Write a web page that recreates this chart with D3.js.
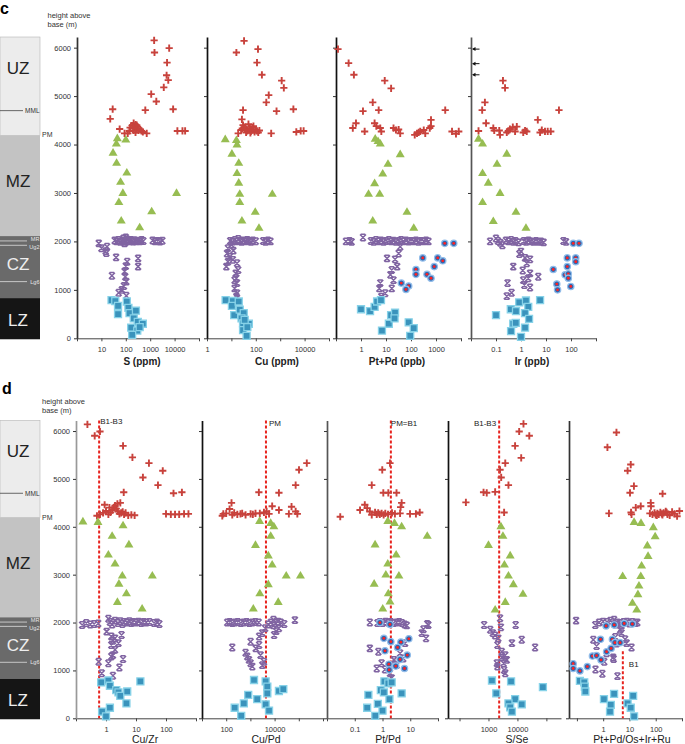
<!DOCTYPE html>
<html><head><meta charset="utf-8">
<script src="https://cdn.jsdelivr.net/npm/d3@7"></script>
<style>body{margin:0;background:#fff}svg{display:block}text{font-family:"Liberation Sans",Arial,sans-serif}</style>
</head><body>
<script>
// ---------------- DATA (value, height above base in m) ----------------
// Panel c : S (ppm)
const S_UZ = [[1450,6150],[1500,5900],[6000,5990],[4900,5690],[4700,5430],[5500,5330],[3600,5180],[1100,5040],[1780,4890],[8700,4730],[630,4710],[29,4730],[23,4530],[56,4320],[89,4230],[140,4280],[210,4440],[180,4390],[250,4410],[300,4370],[330,4330],[150,4350],[210,4290],[270,4300],[330,4290],[400,4300],[440,4280],[500,4260],[720,4230],[250,4250],[120,4230],[280,4400],[200,4340],[13000,4280],[21000,4280],[27000,4280]];
const S_MZ = [[45,4140],[41,4030],[100,4110],[30,3840],[42,3630],[110,3430],[61,3240],[76,3010],[52,2820],[12000,3010],[1150,2630],[65,2440],[370,2300]];
const S_CZ = [[7.8,1960],[10,1860],[17,1890],[16,1760],[15,1800],[40,1670],[114,1580],[100,1490],[320,1650],[320,1480],[89,1380],[95,1270],[27,1290],[105,1170],[84,1080],[69,1000],[51,940],[105,880],[35,2020],[42,2000],[50,2030],[60,1990],[70,2010],[80,2060],[89,2020],[100,1990],[112,2040],[126,2010],[141,2000],[158,2030],[178,2010],[200,1995],[224,2025],[263,2005],[316,2015],[380,2000],[447,2030],[525,2010],[1260,2020],[1580,2000],[2000,2010],[2500,1995],[3160,2015],[100,2080],[89,1960]];
const S_LZ = [[26,790],[37,770],[48,670],[110,760],[128,630],[142,520],[260,570],[48,500],[212,410],[310,340],[500,300],[166,220],[295,160],[182,70],[370,230]];
// Panel c : Cu (ppm)
const Cu_UZ = [[33,6140],[16,5900],[123,5970],[112,5690],[178,5440],[1150,5320],[1410,5170],[339,5020],[269,4870],[708,4690],[3470,4730],[30,4710],[27,4520],[19,4230],[25,4300],[30,4400],[35,4360],[40,4310],[45,4280],[50,4420],[56,4330],[63,4270],[70,4300],[80,4380],[89,4260],[100,4300],[112,4280],[126,4250],[140,4290],[40,4250],[60,4240],[28,4330],[75,4350],[427,4230],[4570,4260],[6920,4280],[9120,4280]];
const Cu_MZ = [[5.6,4120],[16,4100],[17,4010],[10.5,3820],[20,3630],[17,3420],[20,3220],[22,2990],[22,2820],[475,2990],[95,2620],[27,2440],[135,2290]];
const Cu_CZ = [[8.9,2010],[11,1995],[14,2030],[16,2000],[19,2050],[22,2010],[26,1990],[32,2020],[38,2000],[45,2030],[52,2010],[63,1990],[76,2020],[100,2005],[200,2010],[250,1990],[316,2020],[400,2000],[10,1930],[7.2,1860],[6.6,1750],[8.5,1680],[6.2,1480],[17,1550],[15,1340],[19,1410],[16,1240],[17,1140],[13.5,1030],[17,930],[16,860],[12,1810],[11.5,1620],[7.2,1580],[13.5,1200]];
const Cu_LZ = [[5.8,790],[11.5,770],[10.5,670],[20,760],[13,480],[22,590],[32,520],[26,410],[30,310],[52,300],[30,170],[42,50],[35,380],[45,230]];
// Panel c : Pt+Pd (ppb)
const PtPd_UZ = [[0.12,5970],[0.32,5680],[0.52,5440],[8.9,5320],[16,5160],[2.95,4870],[5.1,4710],[1.2,4690],[0.47,4340],[0.63,4440],[1.4,4270],[3.5,4440],[4.1,4380],[5.9,4340],[6.5,4270],[20,4340],[25,4300],[37,4230],[32,4310],[174,4230],[234,4270],[324,4300],[562,4340],[631,4510],[631,4380],[2340,4710],[4370,4270],[6300,4220],[8130,4270],[141,4200],[204,4250],[372,4230]];
const PtPd_MZ = [[3.7,4130],[4.8,4080],[5.9,4030],[37,3810],[12,3610],[7.4,3410],[3.5,3210],[2.0,2990],[5.6,2990],[69,2620],[2.95,2440],[129,2290]];
const PtPd_CZ = [[0.25,2000],[0.35,2010],[0.42,1990],[1.2,2080],[2.5,2010],[3.2,1990],[4,2030],[5,2000],[6.3,2020],[8,1990],[10,2010],[13,2030],[16,2000],[20,2015],[25,1990],[32,2010],[40,2030],[50,2000],[63,2020],[80,1995],[100,2010],[126,2000],[158,2020],[200,1990],[250,2010],[320,2000],[400,2020],[500,2000],[37,1890],[32,1750],[23,1630],[11,1650],[17,1410],[15,1310],[5.9,1140],[5.4,1030],[17,1030],[9.3,930],[6.5,860],[20,1200],[28,1480]];
const PtPd_REEF = [[2240,1960],[5130,1960],[295,1660],[1170,1660],[1860,1600],[850,1480],[158,1420],[158,1320],[437,1320],[631,1240],[41,1140],[81,1080],[63,1010]];
const PtPd_LZ = [[1.0,600],[2.3,560],[3.5,650],[4.4,760],[6.3,790],[16,480],[23,530],[13,300],[22,410],[81,330],[129,210],[93,50],[6.9,160]];
// Panel c : Ir (ppb)
const Ir_UZ = [[0.19,5320],[0.23,5170],[0.036,4870],[0.028,4710],[33,4710],[4.7,4510],[0.04,4440],[0.02,4280],[0.078,4340],[0.085,4290],[0.135,4290],[0.145,4200],[0.31,4280],[0.36,4320],[0.47,4360],[0.68,4370],[1.23,4250],[1.7,4270],[5.8,4250],[6.8,4300],[9.1,4270],[11.7,4270],[15.5,4270],[0.27,4250],[0.58,4270],[1.45,4290]];
const Ir_BDL = [5970,5670,5440]; // heights of samples below detection (arrows)
const Ir_MZ = [[0.02,4130],[0.029,4030],[0.27,3820],[0.11,3610],[0.029,3420],[0.049,3220],[0.145,3010],[0.029,2820],[0.63,2620],[0.078,2430],[1.58,2290]];
const Ir_CZ = [[0.058,2000],[0.1,2060],[0.12,2010],[0.15,1970],[0.18,1920],[0.25,2020],[0.32,2000],[0.4,2030],[0.5,1990],[0.6,2010],[0.8,1980],[1.3,2010],[1.6,1990],[2,2020],[2.5,2000],[3.2,1990],[4,2010],[5,1990],[6.3,2000],[8,1980],[50,2010],[63,1990],[1.0,1790],[0.86,1740],[1.45,1660],[2.3,1630],[1.7,1550],[0.49,1480],[1.17,1400],[2.3,1340],[1.95,1240],[4.9,1270],[1.23,1200],[1.36,1100],[2.3,1050],[0.29,1140],[0.42,940],[0.27,870]];
const Ir_REEF = [[123,1960],[209,1960],[71,1660],[155,1660],[155,1580],[71,1480],[19.5,1420],[58,1310],[78,1330],[78,1240],[27,1120],[29,1000],[98,1070]];
const Ir_LZ = [[0.1,480],[0.39,600],[0.63,560],[0.85,740],[1.58,780],[1.95,650],[1.45,520],[2.1,400],[5.8,790],[0.49,300],[0.62,320],[0.4,150],[1.45,220],[1.0,30]];
// Panel d : Cu/Zr
const CuZr_UZ = [[0.24,6140],[0.42,5900],[0.63,5990],[3.7,5690],[7.6,5450],[27,5330],[78,5170],[17,5030],[54,4870],[3.9,4720],[178,4700],[339,4720],[0.5,4230],[0.63,4260],[0.8,4290],[1.0,4330],[1.2,4260],[1.4,4300],[1.6,4350],[1.8,4400],[2.0,4440],[2.2,4380],[2.5,4320],[2.8,4270],[3.2,4290],[3.6,4310],[4,4260],[4.5,4290],[5.5,4240],[7,4250],[9,4240],[1.3,4400],[0.9,4460],[2.4,4480],[3.0,4500],[100,4270],[145,4260],[200,4260],[275,4260],[400,4270],[560,4270]];
const CuZr_MZ = [[0.17,4120],[0.54,4110],[3.7,4040],[1.6,3820],[5.8,3640],[1.2,3430],[2.0,3240],[3.5,2990],[2.7,2820],[4.8,2620],[2.4,2440],[35,2990],[16,2300]];
const CuZr_CZ = [[0.16,1950],[0.22,1990],[0.3,1960],[0.4,1970],[0.55,1980],[1.35,2010],[1.6,1960],[2,2040],[2.5,1990],[3,2030],[3.5,1970],[4,2010],[5,2000],[6,2030],[7,1990],[8,2010],[10,2000],[12,2020],[15,1990],[18,2010],[22,2000],[28,2010],[40,1990],[50,2000],[60,1970],[1.2,2080],[1.05,1810],[1.5,1710],[2.0,1670],[1.7,1620],[3.3,1740],[2.6,1570],[1.5,1530],[2.0,1430],[1.7,1320],[1.5,1290],[3.7,1240],[0.57,1180],[1.2,1150],[2.8,1060],[0.72,940],[1.7,890]];
const CuZr_LZ = [[0.69,750],[1.2,790],[1.35,680],[14,770],[2.2,590],[2.6,540],[3.0,470],[5.1,560],[4.8,310],[1.35,220],[0.74,140],[1.0,40]];
// Panel d : Cu/Pd
const CuPd_UZ = [[69,4230],[76,4270],[138,4370],[166,4500],[178,4250],[288,4260],[389,4270],[631,4250],[1020,4270],[1620,4280],[2450,4280],[3630,4300],[4680,4320],[5890,4270],[7940,4430],[15100,4350],[38900,4270],[50100,4420],[74100,4320],[87100,4270],[2240,4720],[15100,4710],[74100,4870],[102000,5190],[214000,5330],[100,4280],[214,4290],[457,4280],[1260,4260]];
const CuPd_MZ = [[2400,4130],[6900,4090],[9300,4020],[6900,3820],[1620,3630],[5500,3410],[7940,3220],[30200,2990],[117000,2990],[5500,2810],[2450,2620],[14100,2440],[1320,2300]];
const CuPd_CZ = [[110,2000],[140,2010],[180,1990],[230,2000],[300,2010],[400,1990],[520,2000],[700,2010],[900,1990],[1200,2000],[1600,2010],[2200,2000],[5500,1960],[7000,2000],[9000,1940],[11000,1990],[14000,2020],[18000,2000],[25000,1970],[9000,2060],[69000,2050],[4070,1880],[3090,1780],[2290,1710],[1020,1600],[178,1480],[2290,1530],[631,1370],[741,1290],[2630,1320],[871,1220],[1200,1080],[3090,1110],[3630,1180],[9550,1740],[11700,1820],[15100,1880],[1660,1460],[1020,1150]];
const CuPd_LZ = [[1410,800],[4270,770],[5010,660],[5010,520],[15100,570],[22900,610],[813,490],[1910,400],[224,220],[537,310],[4270,290],[5890,160],[417,50]];
// Panel d : Pt/Pd
const PtPdR_UZ = [[1.86,5330],[0.98,5190],[0.41,4870],[1.07,4710],[1.62,4710],[3.2,4710],[0.23,4460],[0.28,4390],[0.155,4350],[0.35,4320],[0.54,4300],[0.62,4260],[0.93,4280],[4.3,4280],[4.9,4500],[4.5,4410],[9.8,4270],[16,4270],[22,4300],[0.03,4210],[0.41,4250],[1.26,4280],[1.58,4260],[2.2,4290],[2.8,4270],[0.8,4260],[0.7,4290],[1.1,4250]];
const PtPdR_MZ = [[1.55,4130],[2.7,4090],[4.9,4020],[41,3820],[0.54,3640],[3.1,3430],[1.55,3240],[1.32,3010],[3.9,2990],[0.5,2820],[1.62,2620],[1.86,2450],[1.02,2300]];
const PtPdR_CZ = [[0.35,2000],[0.66,1990],[0.8,2010],[1.0,1990],[1.3,2020],[1.6,2000],[2.0,2010],[2.5,1990],[3.2,2000],[4,2010],[5,1990],[6.3,1960],[7.5,1940],[41,1970],[30,1860],[26,1780],[37,1670],[45,1950],[0.35,1460],[0.71,1390],[0.62,1040],[0.93,1150],[1.23,1020],[1.86,940],[2.14,840],[4.3,1360],[5.6,1250],[2.6,1220],[3.2,1110],[6.5,1570]];
const PtPdR_REEF = [[0.81,2000],[1.86,1960],[1.12,1670],[2.0,1600],[4.6,1590],[8.9,1660],[3.5,1480],[1.23,1410],[7.8,1320],[4.3,1230],[1.7,1130],[3.0,1090],[6.2,1040],[1.74,1010]];
const PtPdR_LZ = [[1.17,770],[1.62,730],[2.14,750],[0.87,590],[1.12,540],[4.9,520],[0.31,490],[0.68,300],[0.28,220],[1.0,160],[0.55,50],[1.78,400]];
// Panel d : S/Se
const SSe_UZ = [[16200,6150],[11500,5990],[25700,5900],[8300,5690],[13500,5440],[3800,5330],[2510,5190],[2750,5030],[4900,4870],[676,4720],[871,4710],[1700,4730],[166,4510],[3470,4300]];
const SSe_MZ = [[2690,4020],[3160,3820],[1000,3630],[5620,3410],[3550,3220],[4900,2990],[7240,2810],[15500,2610],[3800,2440],[1700,2280]];
const SSe_CZ = [[2510,2090],[2690,1900],[708,1950],[1150,1850],[1410,1780],[1700,1730],[2190,1670],[8710,1950],[14100,1640],[6460,1570],[40700,1480],[2040,1530],[2880,1390],[3800,1320],[2880,1270],[4270,1220],[3310,1150],[1950,1150],[2040,1080],[3470,1010],[3800,940]];
const SSe_LZ = [[1320,790],[6030,770],[75900,650],[1860,520],[8320,400],[14100,290],[4900,310],[5620,230],[6460,140]];
// Panel d : Pt+Pd/Os+Ir+Ru
const PGE_UZ = [[3.2,5970],[1.45,5660],[11.2,5300],[8.5,5170],[14.8,4850],[10.5,4710],[182,4690],[17.4,4400],[26.9,4430],[64.6,4500],[66,4430],[1.66,4280],[11.5,4300],[12,4260],[60,4280],[75,4260],[90,4290],[100,4250],[115,4280],[130,4260],[150,4300],[170,4270],[200,4290],[240,4320],[280,4260],[340,4240],[420,4310],[520,4270],[650,4220],[800,4330],[110,4240],[180,4250],[260,4300]];
const PGE_MZ = [[15,4110],[27.5,4090],[81,4000],[95,3810],[48,3620],[51,3400],[29,3200],[5.5,2980],[27,2980],[23,2780],[21,2600],[13,2420],[19,2280]];
const PGE_CZ = [[0.093,2040],[0.5,1950],[0.7,2000],[1.0,2020],[1.4,2010],[1.9,2040],[2.6,2060],[3.5,2000],[4.5,1990],[6,2010],[8,2020],[10,1980],[13,2010],[17,1990],[20,2000],[5,1940],[3,1960],[4.4,1850],[5,1780],[6.8,1650],[7.8,1570],[12,1480],[0.42,1640],[0.56,1510],[1.35,1360],[2.4,1270],[1.1,1180],[0.51,1020],[0.93,930],[3.5,880],[2.5,1240],[3.2,1560],[2.9,1700]];
const PGE_REEF = [[1.29,1930],[2.63,1950],[6.3,1980],[12.9,1970],[0.79,1650],[2.24,1650],[2.8,1580],[4.4,1580],[1.35,1390],[2.0,1460],[0.39,1300],[0.56,1310],[0.83,1220],[0.25,1080],[0.072,1140],[0.072,1040],[0.13,990]];
const PGE_LZ = [[0.13,780],[0.19,750],[0.2,660],[0.21,560],[2.6,510],[1.07,400],[1.95,280],[1.82,140],[8.5,310],[13.8,470],[11.2,220],[15,40]];

// Stratigraphy
const zoneNames = ["UZ","MZ","CZ","LZ"];
const zoneTops = [6220,4190,2110,830];
const zoneBottoms = [4190,2110,830,-20];
const zoneLabelHeights = [5590,3250,1540,380];
const horizonNames = ["MML","MR","Ug2","Lg6"];
const horizonHeights = [4700,2010,1920,1170];
const heightTicks = [0,1000,2000,3000,4000,5000,6000];

// ---------------- DRAWING ----------------
const W = 685, H = 744;
const svg = d3.select("body").append("svg").attr("width", W).attr("height", H);
const FONT = '"Liberation Sans", Arial, sans-serif';

const yC = d3.scaleLinear().domain([0, 6220]).range([338.3, 37]);
const yD = d3.scaleLinear().domain([0, 6220]).range([718.3, 420.5]);

const zoneFill = ["#ececec", "#c3c3c3", "#6a6a6a", "#151515"];
const zoneText = ["#222", "#222", "#eeeeee", "#eeeeee"];
const horizonTextShift = [0, -1.6, 1.8, 0];

function drawColumn(y) {
  const g = svg.append("g");
  zoneNames.forEach((n, i) => {
    g.append("rect").attr("x", 0).attr("width", 40)
      .attr("y", y(zoneTops[i])).attr("height", y(zoneBottoms[i]) - y(zoneTops[i]))
      .attr("fill", zoneFill[i]).attr("stroke", i === 0 ? "#b5b5b5" : "none").attr("stroke-width", 0.6);
    g.append("text").attr("x", 18).attr("y", y(zoneLabelHeights[i])).attr("dy", "0.36em")
      .attr("text-anchor", "middle").attr("font-size", 17).attr("fill", zoneText[i]).text(n);
  });
  horizonNames.forEach((n, i) => {
    const yy = y(horizonHeights[i]);
    const light = i > 0;
    g.append("line").attr("x1", 0).attr("x2", light ? 27 : 23).attr("y1", yy).attr("y2", yy)
      .attr("stroke", light ? "#e0e0e0" : "#444").attr("stroke-width", 0.8);
    g.append("text").attr("x", 39.5).attr("y", yy + horizonTextShift[i]).attr("dy", "0.35em").attr("text-anchor", "end")
      .attr("font-size", light ? 5.6 : 6.5).attr("fill", light ? "#e6e6e6" : "#333").text(n);
  });
  g.append("text").attr("x", 42).attr("y", y(zoneBottoms[0])).attr("dy", "0.3em")
    .attr("font-size", 7).attr("fill", "#333").text("PM");
}
drawColumn(yC);
drawColumn(yD);

// panel letters & y titles
svg.append("text").attr("x", 0).attr("y", 14).attr("font-size", 16).attr("font-weight", "bold").text("c");
svg.append("text").attr("x", 2).attr("y", 394).attr("font-size", 16).attr("font-weight", "bold").text("d");
[[47.5, 17.5, "height above"], [47.5, 27, "base (m)"], [42, 403.5, "height above"], [42, 413, "base (m)"]].forEach(t =>
  svg.append("text").attr("x", t[0]).attr("y", t[1]).attr("font-size", 7.5).attr("fill", "#333").text(t[2]));

const style = {
  UZ: { d: "M-3.6,0H3.6M0,-3.6V3.6", fill: "none", stroke: "#c8423c", sw: 1.9 },
  MZ: { d: "M0,-4.2L4.5,3.4H-4.5Z", fill: "#97bd52", stroke: "none", sw: 0 },
  CZ: { d: "M-3,-3L3,3M3,-3L-3,3M-2.3,-3.2H2.3M-2.3,3.2H2.3", fill: "none", stroke: "#8064a2", sw: 1.5 },
  LZ: { d: "M-3.5,-3.5H3.5V3.5H-3.5Z", fill: "#3a93bc", stroke: "#87d2e8", sw: 1.3 }
};

const panels = [
  { y: yC, dom: [1, 1e5], rng: [77, 199], labels: [10, 100, 1000, 10000], title: "S (ppm)", tx: 142, ty: 365, bold: true, axis: "#333", yLab: true,
    UZ: S_UZ, MZ: S_MZ, CZ: S_CZ, LZ: S_LZ },
  { y: yC, dom: [1, 1e5], rng: [207, 329], labels: [1, 100, 10000], title: "Cu (ppm)", tx: 277, ty: 365, bold: true, axis: "#111",
    UZ: Cu_UZ, MZ: Cu_MZ, CZ: Cu_CZ, LZ: Cu_LZ },
  { y: yC, dom: [0.1, 1e4], rng: [336, 461], labels: [1, 10, 100, 1000], title: "Pt+Pd (ppb)", tx: 397, ty: 365, bold: true, axis: "#111",
    UZ: PtPd_UZ, MZ: PtPd_MZ, CZ: PtPd_CZ, LZ: PtPd_LZ, REEF: PtPd_REEF },
  { y: yC, dom: [0.01, 1000], rng: [471, 596], labels: [0.1, 1, 10, 100], title: "Ir (ppb)", tx: 532, ty: 365, bold: true, axis: "#555",
    UZ: Ir_UZ, MZ: Ir_MZ, CZ: Ir_CZ, LZ: Ir_LZ, REEF: Ir_REEF, BDL: Ir_BDL },
  { y: yD, dom: [0.1, 1000], rng: [76, 196], labels: [1, 10, 100], title: "Cu/Zr", tx: 145, ty: 743, axis: "#999", yLab: true,
    UZ: CuZr_UZ, MZ: CuZr_MZ, CZ: CuZr_CZ, LZ: CuZr_LZ, ref: { v: 0.59, top: 6220, label: "B1-B3", dx: 1, anchor: "start", ly: 424 } },
  { y: yD, dom: [10, 1e6], rng: [202, 323], labels: [100, 10000], title: "Cu/Pd", tx: 266, ty: 743, axis: "#111",
    UZ: CuPd_UZ, MZ: CuPd_MZ, CZ: CuPd_CZ, LZ: CuPd_LZ, ref: { v: 4400, top: 6220, label: "PM", dx: 3, anchor: "start", ly: 426 } },
  { y: yD, dom: [0.01, 100], rng: [327, 438], labels: [0.1, 1, 10], title: "Pt/Pd", tx: 388, ty: 743, axis: "#555",
    UZ: PtPdR_UZ, MZ: PtPdR_MZ, CZ: PtPdR_CZ, LZ: PtPdR_LZ, REEF: PtPdR_REEF, ref: { v: 2.0, top: 6220, label: "PM=B1", dx: 0, anchor: "start", ly: 426 } },
  { y: yD, dom: [40, 3.2e5], rng: [448, 561], labels: [1000, 10000], title: "S/Se", tx: 517, ty: 743, axis: "#111",
    UZ: SSe_UZ, MZ: SSe_MZ, CZ: SSe_CZ, LZ: SSe_LZ, ref: { v: 2340, top: 6220, label: "B1-B3", dx: -3, anchor: "end", ly: 426 } },
  { y: yD, dom: [0.05, 1000], rng: [569, 682], labels: [1, 10, 100], title: "Pt+Pd/Os+Ir+Ru", tx: 632, ty: 743, axis: "#333",
    UZ: PGE_UZ, MZ: PGE_MZ, CZ: PGE_CZ, LZ: PGE_LZ, REEF: PGE_REEF, ref: { v: 5.6, top: 1400, label: "B1", dx: 6, anchor: "start", ly: 667 } }
];

panels.forEach(p => {
  const x = d3.scaleLog().domain(p.dom).range(p.rng);
  const y = p.y;
  const g = svg.append("g");
  const lo = Math.ceil(Math.log10(p.dom[0]) - 1e-9), hi = Math.floor(Math.log10(p.dom[1]) + 1e-9);
  const decades = d3.range(lo, hi + 1).map(e => +Math.pow(10, e).toPrecision(1));
  const fmt = v => p.labels.some(l => Math.abs(l - v) / l < 1e-6) ? String(v) : "";

  // x axis
  const xa = g.append("g").attr("transform", `translate(0,${y(0)})`)
    .call(d3.axisBottom(x).tickValues(decades).tickFormat(fmt).tickSizeInner(3).tickSizeOuter(0).tickPadding(5));
  xa.select(".domain").attr("stroke", "#444").attr("stroke-width", 1);
  xa.selectAll(".tick line").attr("stroke", "#444");
  xa.selectAll("text").attr("font-family", FONT).attr("font-size", 7.5).attr("fill", "#333");

  // y axis
  const ya = g.append("g").attr("transform", `translate(${p.rng[0]},0)`)
    .call(d3.axisLeft(y).tickValues(heightTicks).tickFormat(p.yLab ? d3.format("d") : () => "").tickSizeInner(3).tickSizeOuter(0).tickPadding(3));
  ya.select(".domain").attr("stroke", p.axis).attr("stroke-width", 1.7);
  ya.selectAll(".tick line").attr("stroke", "#333");
  ya.selectAll("text").attr("font-family", FONT).attr("font-size", 7.5).attr("fill", "#333");

  // title
  g.append("text").attr("x", p.tx).attr("y", p.ty).attr("text-anchor", "middle")
    .attr("font-size", p.bold ? 10 : 10.5).attr("font-weight", p.bold ? "bold" : "normal").attr("fill", "#222").text(p.title);

  // reference line
  if (p.ref) {
    const rx = x(p.ref.v);
    g.append("line").attr("x1", rx).attr("x2", rx).attr("y1", y(p.ref.top)).attr("y2", y(0))
      .attr("stroke", "#e8231e").attr("stroke-width", 2).attr("stroke-dasharray", "3,2");
    g.append("text").attr("x", rx + p.ref.dx).attr("y", p.ref.ly).attr("text-anchor", p.ref.anchor)
      .attr("font-size", 8).attr("fill", "#222").text(p.ref.label);
  }

  // markers
  ["UZ", "MZ", "CZ", "LZ"].forEach(k => {
    const s = style[k];
    g.append("g").selectAll("path").data(p[k]).join("path")
      .attr("transform", d => `translate(${x(d[0])},${y(d[1])})`)
      .attr("d", s.d).attr("fill", s.fill).attr("stroke", s.stroke).attr("stroke-width", s.sw);
  });
  if (p.REEF) {
    const rg = g.append("g").selectAll("g").data(p.REEF).join("g")
      .attr("transform", d => `translate(${x(d[0])},${y(d[1])})`);
    rg.append("circle").attr("r", 3.2).attr("fill", "#2e68b3").attr("stroke", "#93bde9").attr("stroke-width", 1.2);
    rg.append("circle").attr("r", 1.4).attr("fill", "#ff2020");
  }
  if (p.BDL) {
    const bx = x(p.dom[0]);
    const ag = g.append("g").selectAll("g").data(p.BDL).join("g")
      .attr("transform", d => `translate(${bx},${y(d)})`);
    ag.append("line").attr("x1", 2).attr("x2", 8.5).attr("y1", 0).attr("y2", 0).attr("stroke", "#111").attr("stroke-width", 1);
    ag.append("path").attr("d", "M1,0L4.5,-2V2Z").attr("fill", "#111");
  }
});
</script>
</body></html>
